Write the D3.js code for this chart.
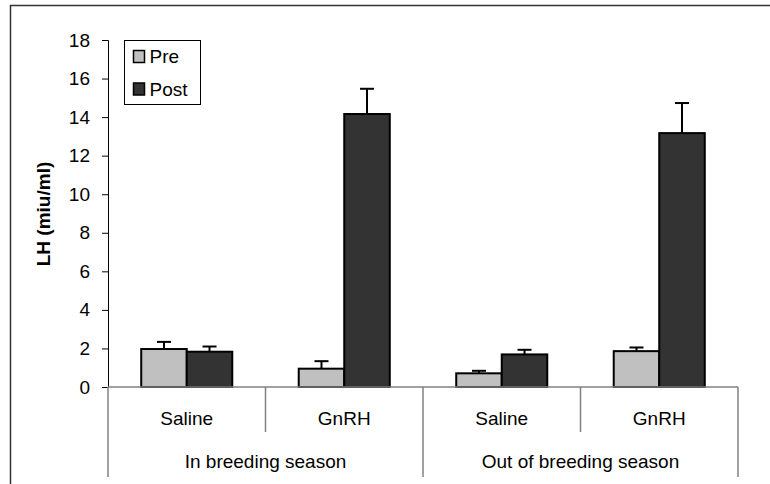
<!DOCTYPE html>
<html>
<head>
<meta charset="utf-8">
<script src="https://cdn.jsdelivr.net/npm/d3@7"></script>
<style>
  body { margin: 0; background: #fff; overflow: hidden; }
  svg { display: block; }
</style>
</head>
<body>
<div id="chart"></div>
<script>
const seasons = ['In breeding season', 'Out of breeding season'];
const treatments = ['Saline', 'GnRH'];
const series = ['Pre', 'Post'];
const preValues = [1.97, 0.95, 0.71, 1.86];
const postValues = [1.83, 14.16, 1.69, 13.17];
const preErrors = [0.37, 0.39, 0.13, 0.19];
const postErrors = [0.27, 1.31, 0.24, 1.56];
const yTicks = [0, 2, 4, 6, 8, 10, 12, 14, 16, 18];

const width = 770;
const height = 484;
const margin = { top: 40, right: 32, bottom: 97, left: 108 };
const innerWidth = width - margin.left - margin.right;
const innerHeight = height - margin.top - margin.bottom;
const fontFamily = 'Arial, "Liberation Sans", sans-serif';
const fontSize = 19;

const colors = { Pre: '#c0c0c0', Post: '#333333' };

// one row per season x treatment
const rows = [];
seasons.forEach((s, si) => {
  treatments.forEach((t, ti) => {
    const i = si * treatments.length + ti;
    rows.push({
      key: i,
      season: s,
      treatment: t,
      Pre: preValues[i], Post: postValues[i],
      PreErr: preErrors[i], PostErr: postErrors[i]
    });
  });
});

const svg = d3.select('#chart')
  .append('svg')
  .attr('width', width)
  .attr('height', height)
  .attr('font-family', fontFamily)
  .attr('font-size', fontSize);

// outer frame
svg.append('path')
  .attr('d', `M10.5,${height} V5.5 H${width}`)
  .attr('fill', 'none')
  .attr('stroke', '#333')
  .attr('stroke-width', 1.5);

const chart = svg.append('g')
  .attr('transform', `translate(${margin.left}, ${margin.top})`);

const x = d3.scaleBand()
  .domain(rows.map(d => d.key))
  .range([0, innerWidth]);

const xInner = d3.scaleBand()
  .domain(series)
  .range([0, x.bandwidth()])
  .paddingOuter(0.73)
  .paddingInner(0);

const y = d3.scaleLinear()
  .domain([0, 18])
  .range([innerHeight, 0]);

// y axis
const yAxis = chart.append('g')
  .call(d3.axisLeft(y).tickValues(yTicks).tickSize(6).tickPadding(12))
  .attr('font-family', fontFamily)
  .attr('font-size', fontSize);
yAxis.select('.domain').attr('stroke', '#000');
yAxis.selectAll('.tick line').attr('stroke', '#000');
yAxis.selectAll('.tick text').attr('fill', '#000');

// bars
const groups = chart.append('g')
  .selectAll('g')
  .data(rows)
  .enter()
  .append('g')
  .attr('transform', d => `translate(${x(d.key)}, 0)`);

groups.selectAll('rect')
  .data(d => series.map(k => ({ k, v: d[k], e: d[k + 'Err'] })))
  .enter()
  .append('rect')
  .attr('x', d => xInner(d.k))
  .attr('y', d => y(d.v))
  .attr('width', xInner.bandwidth())
  .attr('height', d => y(0) - y(d.v))
  .attr('fill', d => colors[d.k])
  .attr('stroke', '#000')
  .attr('stroke-width', 2);

// error bars (upper only)
const err = groups.selectAll('g.err')
  .data(d => series.map(k => ({ k, v: d[k], e: d[k + 'Err'] })))
  .enter()
  .append('g')
  .attr('class', 'err')
  .attr('stroke', '#000')
  .attr('stroke-width', 2);

err.append('line')
  .attr('x1', d => xInner(d.k) + xInner.bandwidth() / 2)
  .attr('x2', d => xInner(d.k) + xInner.bandwidth() / 2)
  .attr('y1', d => y(d.v))
  .attr('y2', d => y(d.v + d.e));

err.append('line')
  .attr('x1', d => xInner(d.k) + xInner.bandwidth() / 2 - 7)
  .attr('x2', d => xInner(d.k) + xInner.bandwidth() / 2 + 7)
  .attr('y1', d => y(d.v + d.e))
  .attr('y2', d => y(d.v + d.e));

// category axis
chart.append('line')
  .attr('x1', 0)
  .attr('x2', innerWidth)
  .attr('y1', y(0))
  .attr('y2', y(0))
  .attr('stroke', '#808080')
  .attr('stroke-width', 1.5);

const seasonWidth = x.bandwidth() * treatments.length;
const sepData = d3.range(rows.length + 1);
chart.append('g')
  .selectAll('line')
  .data(sepData)
  .enter()
  .append('line')
  .attr('x1', i => i * x.bandwidth())
  .attr('x2', i => i * x.bandwidth())
  .attr('y1', y(0))
  .attr('y2', i => i % treatments.length === 0 ? y(0) + 90 : y(0) + 45)
  .attr('stroke', '#808080')
  .attr('stroke-width', 1.5);

chart.append('g')
  .selectAll('text')
  .data(rows)
  .enter()
  .append('text')
  .attr('x', d => x(d.key) + x.bandwidth() / 2)
  .attr('y', y(0) + 38)
  .attr('text-anchor', 'middle')
  .text(d => d.treatment);

chart.append('g')
  .selectAll('text')
  .data(seasons)
  .enter()
  .append('text')
  .attr('x', (d, i) => i * seasonWidth + seasonWidth / 2)
  .attr('y', y(0) + 81)
  .attr('text-anchor', 'middle')
  .text(d => d);

// y label
svg.append('text')
  .attr('transform', 'rotate(-90)')
  .attr('x', -214)
  .attr('y', 50)
  .attr('text-anchor', 'middle')
  .attr('font-size', 19)
  .attr('font-weight', 'bold')
  .text('LH (miu/ml)');

// legend
const legend = svg.append('g')
  .attr('transform', 'translate(124.5, 40.5)');

legend.append('rect')
  .attr('width', 76)
  .attr('height', 64)
  .attr('fill', '#fff')
  .attr('stroke', '#000')
  .attr('stroke-width', 1);

series.forEach((s, i) => {
  const row = legend.append('g')
    .attr('transform', `translate(9, ${10 + i * 32.5})`);
  row.append('rect')
    .attr('width', 11)
    .attr('height', 12)
    .attr('fill', colors[s])
    .attr('stroke', '#000')
    .attr('stroke-width', 1.5);
  row.append('text')
    .attr('x', 16)
    .attr('y', 12.5)
    .text(s);
});
</script>
</body>
</html>
